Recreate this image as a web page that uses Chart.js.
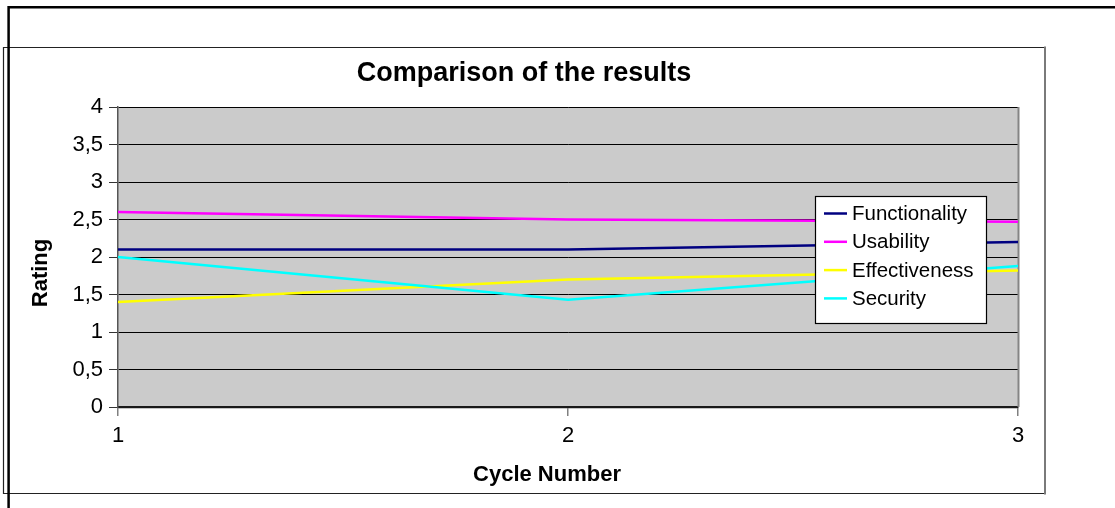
<!DOCTYPE html>
<html>
<head>
<meta charset="utf-8">
<script src="https://cdn.jsdelivr.net/npm/chart.js@4"></script>
<style>
  html, body { margin: 0; padding: 0; background: #fff; }
  #wrap { width: 1115px; height: 508px; position: relative; }
</style>
</head>
<body>
<div id="wrap"><canvas id="c"></canvas></div>
<script>
const chartTitle = 'Comparison of the results';
const xTitle = 'Cycle Number';
const yTitle = 'Rating';
const categories = ['1', '2', '3'];
const seriesNames = ['Functionality', 'Usability', 'Effectiveness', 'Security'];
const functionality = [2.1, 2.1, 2.2];
const usability = [2.6, 2.5, 2.47];
const effectiveness = [1.4, 1.7, 1.82];
const security = [2.0, 1.43, 1.88];
const seriesColors = ['#000080', '#ff00ff', '#ffff00', '#00ffff'];
const yMin = 0, yMax = 4, yStep = 0.5;

const FONT = "'Liberation Sans', Arial, Helvetica, sans-serif";
Chart.defaults.font.family = FONT;
Chart.defaults.color = '#000';

const decor = {
  id: 'decor',
  beforeDraw(chart) {
    const { ctx, chartArea: a } = chart;
    ctx.save();
    ctx.fillStyle = '#fff';
    ctx.fillRect(0, 0, chart.width, chart.height);
    // inner frame
    ctx.strokeStyle = '#222';
    ctx.lineWidth = 1.2;
    ctx.beginPath();
    ctx.moveTo(1045, 47.5); ctx.lineTo(3.5, 47.5); ctx.lineTo(3.5, 493.5); ctx.lineTo(1045, 493.5);
    ctx.stroke();
    ctx.strokeStyle = '#7a7a7a';
    ctx.lineWidth = 2;
    ctx.beginPath(); ctx.moveTo(1045, 46.5); ctx.lineTo(1045, 494.5); ctx.stroke();
    // outer thick frame
    ctx.strokeStyle = '#000';
    ctx.lineWidth = 2.5;
    ctx.beginPath();
    ctx.moveTo(1115, 7.2); ctx.lineTo(8.6, 7.2); ctx.lineTo(8.6, 508);
    ctx.stroke();
    // plot background
    ctx.fillStyle = '#cbcbcb';
    ctx.fillRect(a.left, a.top, a.right - a.left, a.bottom - a.top);
    ctx.restore();
  },
  beforeDatasetsDraw(chart) {
    const { ctx, chartArea: a } = chart;
    ctx.save();
    ctx.strokeStyle = '#858585';
    ctx.lineWidth = 2;
    ctx.beginPath(); ctx.moveTo(a.right + 0.5, a.top); ctx.lineTo(a.right + 0.5, a.bottom); ctx.stroke();
    ctx.restore();
  },
  afterDraw(chart) {
    const { ctx, chartArea: a } = chart;
    ctx.save();
    ctx.fillStyle = '#000';
    // chart title
    ctx.font = 'bold 27px ' + FONT;
    ctx.textAlign = 'center';
    ctx.textBaseline = 'alphabetic';
    ctx.fillText(chartTitle, 524, 81);
    // x title
    ctx.font = 'bold 22px ' + FONT;
    ctx.fillText(xTitle, 547, 481);
    // y title
    ctx.save();
    ctx.translate(47, 273);
    ctx.rotate(-Math.PI / 2);
    ctx.fillText(yTitle, 0, 0);
    ctx.restore();
    // legend
    const lx = 815.5, ly = 196.5, lw = 171, lh = 127;
    ctx.fillStyle = '#fff';
    ctx.fillRect(lx, ly, lw, lh);
    ctx.strokeStyle = '#000';
    ctx.lineWidth = 1.2;
    ctx.strokeRect(lx, ly, lw, lh);
    ctx.font = '20.5px ' + FONT;
    ctx.textAlign = 'left';
    ctx.textBaseline = 'middle';
    chart.data.datasets.forEach((ds, i) => {
      const cy = 213.5 + i * 28.3;
      ctx.strokeStyle = ds.borderColor;
      ctx.lineWidth = 2.5;
      ctx.beginPath(); ctx.moveTo(824, cy); ctx.lineTo(847, cy); ctx.stroke();
      ctx.fillStyle = '#000';
      ctx.fillText(ds.label, 852, cy + 1);
    });
    ctx.restore();
  }
};

const seriesValues = [functionality, usability, effectiveness, security];
const datasets = seriesNames.map((name, i) => ({
  label: name,
  data: seriesValues[i],
  borderColor: seriesColors[i],
  backgroundColor: seriesColors[i],
  borderWidth: 2.5,
  pointRadius: 0,
  pointHoverRadius: 0,
  tension: 0,
  fill: false,
  order: seriesNames.length - i
}));

new Chart(document.getElementById('c'), {
  type: 'line',
  data: { labels: categories, datasets },
  options: {
    responsive: true,
    maintainAspectRatio: false,
    animation: false,
    events: [],
    layout: { padding: { left: 0, top: 107, right: 97, bottom: 0 } },
    plugins: {
      legend: { display: false },
      title: { display: false },
      tooltip: { enabled: false }
    },
    scales: {
      x: {
        type: 'category',
        offset: false,
        afterFit: (s) => { s.height = 101; },
        grid: { drawOnChartArea: false, drawTicks: true, tickLength: 9, color: '#808080', lineWidth: 1.5 },
        border: { display: true, color: '#1a1a1a', width: 2.2 },
        ticks: { font: { size: 22 }, color: '#000', padding: 7, maxRotation: 0, autoSkip: false }
      },
      y: {
        min: yMin, max: yMax,
        afterFit: (s) => { s.width = 118; },
        grid: { color: '#000', lineWidth: 1, tickLength: 9, tickColor: '#333', drawTicks: true },
        border: { display: true, color: '#555', width: 1.5 },
        ticks: {
          stepSize: yStep,
          font: { size: 22 },
          color: '#000',
          padding: 6,
          callback: (v) => String(v).replace('.', ',')
        }
      }
    }
  },
  plugins: [decor]
});
</script>
</body>
</html>
